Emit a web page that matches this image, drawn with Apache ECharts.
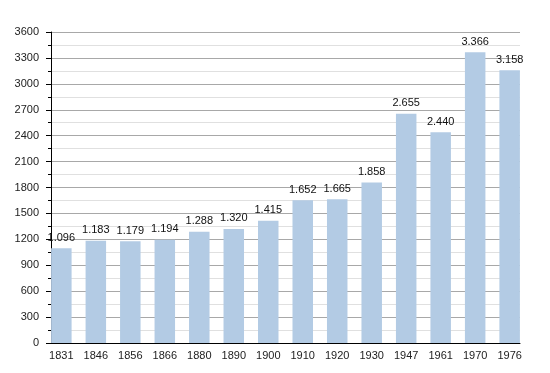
<!DOCTYPE html>
<html>
<head>
<meta charset="utf-8">
<script src="https://cdn.jsdelivr.net/npm/echarts@6/dist/echarts.min.js"></script>
<style>html,body{margin:0;padding:0;background:#fff}#c{width:550px;height:373px}</style>
</head>
<body>
<div id="c"></div>
<script>
var years = ['1831','1846','1856','1866','1880','1890','1900','1910','1920','1930','1947','1961','1970','1976'];
var population = [1096,1183,1179,1194,1288,1320,1415,1652,1665,1858,2655,2440,3366,3158];
var yTicks = [0,300,600,900,1200,1500,1800,2100,2400,2700,3000,3300,3600];

function fmt(v){
  var t = Math.floor(v/1000), r = v % 1000;
  return t > 0 ? t + '.' + String(r).padStart(3,'0') : String(r);
}
var idx = years.map(function(_, i){ return i; });
var chart = echarts.init(document.getElementById('c'), null, {renderer:'canvas'});
chart.setOption({
  animation:false,
  backgroundColor:'#fff',
  textStyle:{fontFamily:'Liberation Sans, Arial, sans-serif'},
  grid:{left:51,right:30,top:32,bottom:30},
  xAxis:{
    type:'value', min:-0.3, max:13.3,
    axisLine:{show:true,onZero:false,lineStyle:{color:'#000',width:1}},
    axisTick:{show:false},
    splitLine:{show:false},
    axisLabel:{customValues:idx, formatter:function(v){return years[Math.round(v)]||'';}, color:'#222', fontSize:11, margin:7}
  },
  yAxis:{
    type:'value', min:yTicks[0], max:yTicks[yTicks.length-1], interval:300,
    axisLine:{show:true,onZero:false,lineStyle:{color:'#000',width:1}},
    axisTick:{show:true,length:5,lineStyle:{color:'#000'}},
    minorTick:{show:true,splitNumber:2,length:3,lineStyle:{color:'#000'}},
    splitLine:{show:true,lineStyle:{color:'#a8a8a8',width:1}},
    minorSplitLine:{show:true,lineStyle:{color:'#e0e0e0',width:1}},
    axisLabel:{color:'#222',fontSize:11,margin:12,formatter:function(v){return String(v);}}
  },
  series:[{
    type:'bar',
    barWidth:20.5,
    data: population.map(function(v,i){return [idx[i], v];}),
    itemStyle:{color:'#b3cbe4'},
    label:{show:true,position:'top',distance:5,color:'#111',fontSize:11,
      formatter:function(p){return fmt(p.value[1]);}}
  }]
});
</script>
</body>
</html>
